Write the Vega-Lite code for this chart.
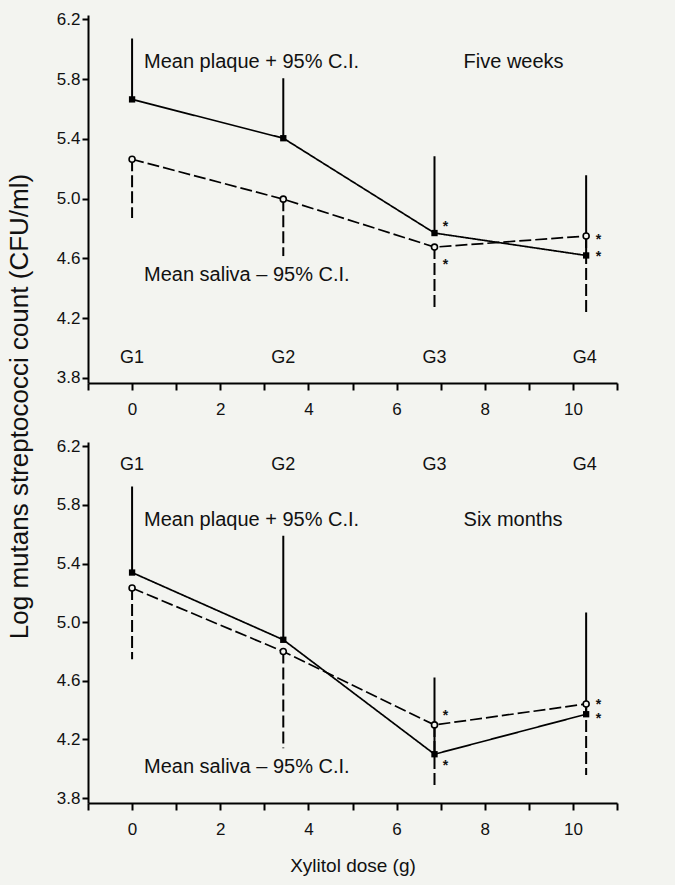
{
  "$schema": "https://vega.github.io/schema/vega-lite/v6.json",
  "background": "#f3f4f0",
  "padding": {"left": 6, "top": 10, "right": 58, "bottom": 15},
  "spacing": 59,
  "bounds": "flush",
  "datasets": {
    "series": [
      {"panel": "five weeks", "series": "plaque", "x": 0, "y": 5.665, "ci": 6.073},
      {"panel": "five weeks", "series": "plaque", "x": 3.43, "y": 5.405, "ci": 5.806},
      {"panel": "five weeks", "series": "plaque", "x": 6.86, "y": 4.77, "ci": 5.284},
      {"panel": "five weeks", "series": "plaque", "x": 10.3, "y": 4.62, "ci": 5.157},
      {"panel": "five weeks", "series": "saliva", "x": 0, "y": 5.264, "ci": 4.87},
      {"panel": "five weeks", "series": "saliva", "x": 3.43, "y": 4.997, "ci": 4.616},
      {"panel": "five weeks", "series": "saliva", "x": 6.86, "y": 4.676, "ci": 4.275},
      {"panel": "five weeks", "series": "saliva", "x": 10.3, "y": 4.75, "ci": 4.235},
      {"panel": "six months", "series": "plaque", "x": 0, "y": 5.339, "ci": 5.927},
      {"panel": "six months", "series": "plaque", "x": 3.43, "y": 4.88, "ci": 5.59},
      {"panel": "six months", "series": "plaque", "x": 6.86, "y": 4.099, "ci": 4.622},
      {"panel": "six months", "series": "plaque", "x": 10.3, "y": 4.372, "ci": 5.066},
      {"panel": "six months", "series": "saliva", "x": 0, "y": 5.233, "ci": 4.748},
      {"panel": "six months", "series": "saliva", "x": 3.43, "y": 4.8, "ci": 4.14},
      {"panel": "six months", "series": "saliva", "x": 6.86, "y": 4.299, "ci": 3.867},
      {"panel": "six months", "series": "saliva", "x": 10.3, "y": 4.442, "ci": 3.957}
    ],
    "notes": [
      {"panel": "five weeks", "kind": "text", "x": 0.27, "y": 5.913, "label": "Mean plaque + 95% C.I."},
      {"panel": "five weeks", "kind": "text", "x": 7.52, "y": 5.913, "label": "Five weeks"},
      {"panel": "five weeks", "kind": "text", "x": 0.27, "y": 4.489, "label": "Mean saliva – 95% C.I."},
      {"panel": "five weeks", "kind": "group", "x": 0, "y": 3.934, "label": "G1"},
      {"panel": "five weeks", "kind": "group", "x": 3.43, "y": 3.934, "label": "G2"},
      {"panel": "five weeks", "kind": "group", "x": 6.86, "y": 3.934, "label": "G3"},
      {"panel": "five weeks", "kind": "group", "x": 10.27, "y": 3.934, "label": "G4"},
      {"panel": "five weeks", "kind": "star", "x": 7.11, "y": 4.83, "label": "*"},
      {"panel": "five weeks", "kind": "star", "x": 7.11, "y": 4.576, "label": "*"},
      {"panel": "five weeks", "kind": "star", "x": 10.58, "y": 4.745, "label": "*"},
      {"panel": "five weeks", "kind": "star", "x": 10.58, "y": 4.627, "label": "*"},
      {"panel": "six months", "kind": "text", "x": 0.27, "y": 5.7, "label": "Mean plaque + 95% C.I."},
      {"panel": "six months", "kind": "text", "x": 7.52, "y": 5.7, "label": "Six months"},
      {"panel": "six months", "kind": "text", "x": 0.27, "y": 4.014, "label": "Mean saliva – 95% C.I."},
      {"panel": "six months", "kind": "group", "x": 0, "y": 6.075, "label": "G1"},
      {"panel": "six months", "kind": "group", "x": 3.43, "y": 6.075, "label": "G2"},
      {"panel": "six months", "kind": "group", "x": 6.86, "y": 6.075, "label": "G3"},
      {"panel": "six months", "kind": "group", "x": 10.27, "y": 6.075, "label": "G4"},
      {"panel": "six months", "kind": "star", "x": 7.11, "y": 4.381, "label": "*"},
      {"panel": "six months", "kind": "star", "x": 7.11, "y": 4.04, "label": "*"},
      {"panel": "six months", "kind": "star", "x": 10.58, "y": 4.458, "label": "*"},
      {"panel": "six months", "kind": "star", "x": 10.58, "y": 4.36, "label": "*"}
    ]
  },
  "vconcat": [
    {
      "width": 529,
      "height": 368,
      "encoding": {
        "x": {"field": "x", "type": "quantitative", "scale": {"domain": [-1, 11], "nice": false, "zero": false},
              "axis": {"values": [-1, 0, 1, 2, 3, 4, 5, 6, 7, 8, 9, 10, 11], "labelExpr": "datum.value % 2 == 0 ? datum.label : ''", "title": null, "tickSize": 7, "labelPadding": 11}},
        "y": {"field": "y", "type": "quantitative", "scale": {"domain": [3.766, 6.23], "nice": false, "zero": false},
              "axis": {"values": [3.8, 4.2, 4.6, 5.0, 5.4, 5.8, 6.2], "format": ".1f", "tickSize": 6, "labelPadding": 2,
                       "title": "Log mutans streptococci count (CFU/ml)", "titleFontSize": 26, "titleY": 391, "titlePadding": 24}}
      },
      "layer": [
        {"data": {"name": "series"}, "transform": [{"filter": "datum.panel == 'five weeks'"}],
         "mark": {"type": "rule", "color": "black", "strokeWidth": 2},
         "encoding": {"y2": {"field": "ci"}, "strokeDash": {"field": "series", "type": "nominal", "scale": {"domain": ["plaque", "saliva"], "range": [[1, 0], [12, 4]]}, "legend": null}}},
        {"data": {"name": "series"}, "transform": [{"filter": "datum.panel == 'five weeks'"}],
         "mark": {"type": "line", "color": "black", "strokeWidth": 1.7},
         "encoding": {"detail": {"field": "series"}, "strokeDash": {"field": "series", "type": "nominal", "scale": {"domain": ["plaque", "saliva"], "range": [[1, 0], [12, 4]]}, "legend": null}}},
        {"data": {"name": "series"}, "transform": [{"filter": "datum.panel == 'five weeks' && datum.series == 'plaque'"}],
         "mark": {"type": "point", "shape": "square", "filled": true, "color": "black", "size": 40, "opacity": 1}},
        {"data": {"name": "series"}, "transform": [{"filter": "datum.panel == 'five weeks' && datum.series == 'saliva'"}],
         "mark": {"type": "point", "shape": "circle", "filled": true, "fill": "#f3f4f0", "stroke": "black", "strokeWidth": 1.6, "size": 36, "opacity": 1}},
        {"data": {"name": "notes"}, "transform": [{"filter": "datum.panel == 'five weeks' && datum.kind == 'text'"}],
         "mark": {"type": "text", "align": "left", "baseline": "middle", "fontSize": 20, "color": "#111"},
         "encoding": {"text": {"field": "label"}}},
        {"data": {"name": "notes"}, "transform": [{"filter": "datum.panel == 'five weeks' && datum.kind == 'group'"}],
         "mark": {"type": "text", "align": "center", "baseline": "middle", "fontSize": 18, "color": "#111"},
         "encoding": {"text": {"field": "label"}}},
        {"data": {"name": "notes"}, "transform": [{"filter": "datum.panel == 'five weeks' && datum.kind == 'star'"}],
         "mark": {"type": "text", "align": "center", "baseline": "middle", "fontSize": 14, "fontWeight": "bold", "dy": 3, "color": "#111"},
         "encoding": {"text": {"field": "label"}}}
      ]
    },
    {
      "width": 529,
      "height": 361,
      "encoding": {
        "x": {"field": "x", "type": "quantitative", "scale": {"domain": [-1, 11], "nice": false, "zero": false},
              "axis": {"values": [-1, 0, 1, 2, 3, 4, 5, 6, 7, 8, 9, 10, 11], "labelExpr": "datum.value % 2 == 0 ? datum.label : ''", "title": "Xylitol dose (g)", "titleFontSize": 19, "titlePadding": 19, "tickSize": 7, "labelPadding": 11}},
        "y": {"field": "y", "type": "quantitative", "scale": {"domain": [3.766, 6.23], "nice": false, "zero": false},
              "axis": {"values": [3.8, 4.2, 4.6, 5.0, 5.4, 5.8, 6.2], "format": ".1f", "tickSize": 6, "labelPadding": 2, "title": null}}
      },
      "layer": [
        {"data": {"name": "series"}, "transform": [{"filter": "datum.panel == 'six months'"}],
         "mark": {"type": "rule", "color": "black", "strokeWidth": 2},
         "encoding": {"y2": {"field": "ci"}, "strokeDash": {"field": "series", "type": "nominal", "scale": {"domain": ["plaque", "saliva"], "range": [[1, 0], [12, 4]]}, "legend": null}}},
        {"data": {"name": "series"}, "transform": [{"filter": "datum.panel == 'six months'"}],
         "mark": {"type": "line", "color": "black", "strokeWidth": 1.7},
         "encoding": {"detail": {"field": "series"}, "strokeDash": {"field": "series", "type": "nominal", "scale": {"domain": ["plaque", "saliva"], "range": [[1, 0], [12, 4]]}, "legend": null}}},
        {"data": {"name": "series"}, "transform": [{"filter": "datum.panel == 'six months' && datum.series == 'plaque'"}],
         "mark": {"type": "point", "shape": "square", "filled": true, "color": "black", "size": 40, "opacity": 1}},
        {"data": {"name": "series"}, "transform": [{"filter": "datum.panel == 'six months' && datum.series == 'saliva'"}],
         "mark": {"type": "point", "shape": "circle", "filled": true, "fill": "#f3f4f0", "stroke": "black", "strokeWidth": 1.6, "size": 36, "opacity": 1}},
        {"data": {"name": "notes"}, "transform": [{"filter": "datum.panel == 'six months' && datum.kind == 'text'"}],
         "mark": {"type": "text", "align": "left", "baseline": "middle", "fontSize": 20, "color": "#111"},
         "encoding": {"text": {"field": "label"}}},
        {"data": {"name": "notes"}, "transform": [{"filter": "datum.panel == 'six months' && datum.kind == 'group'"}],
         "mark": {"type": "text", "align": "center", "baseline": "middle", "fontSize": 18, "color": "#111"},
         "encoding": {"text": {"field": "label"}}},
        {"data": {"name": "notes"}, "transform": [{"filter": "datum.panel == 'six months' && datum.kind == 'star'"}],
         "mark": {"type": "text", "align": "center", "baseline": "middle", "fontSize": 14, "fontWeight": "bold", "dy": 3, "color": "#111"},
         "encoding": {"text": {"field": "label"}}}
      ]
    }
  ],
  "config": {
    "font": "Liberation Sans",
    "view": {"stroke": null},
    "axis": {
      "grid": false,
      "domainColor": "#000",
      "domainWidth": 2,
      "tickColor": "#000",
      "tickWidth": 2,
      "labelColor": "#111",
      "labelFontSize": 17,
      "labelFont": "Liberation Sans",
      "titleFont": "Liberation Sans",
      "titleColor": "#111",
      "titleFontWeight": "normal"
    }
  }
}
